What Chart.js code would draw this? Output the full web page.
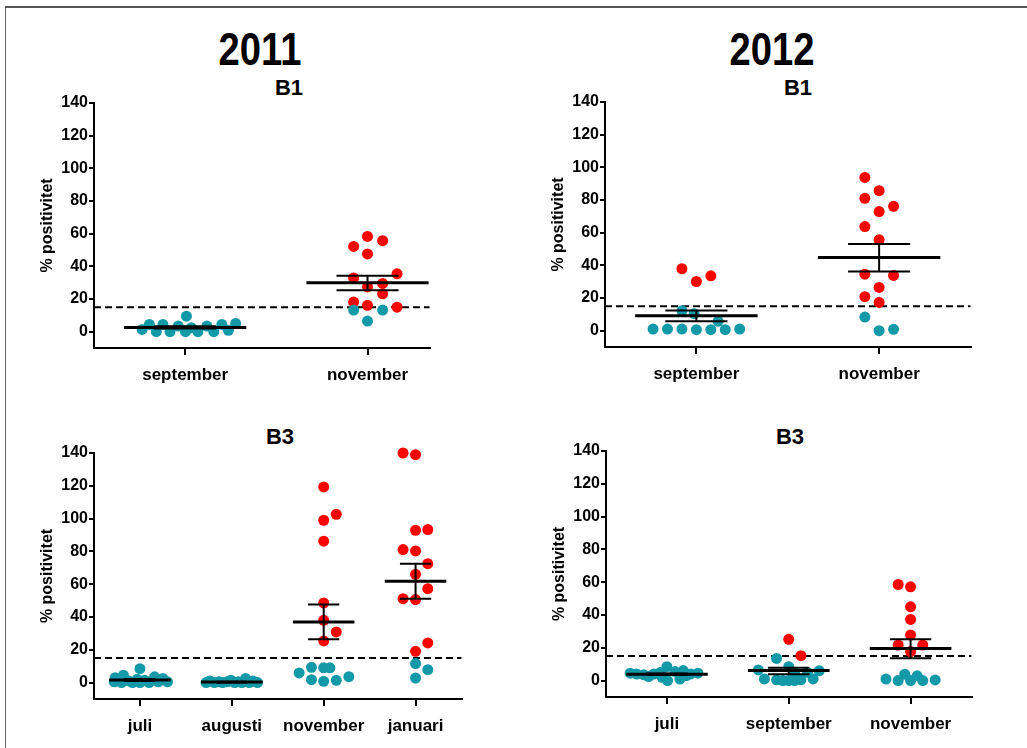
<!DOCTYPE html>
<html><head><meta charset="utf-8">
<script src="https://cdn.jsdelivr.net/npm/chart.js@4/dist/chart.umd.min.js"></script>
<style>
body{margin:0;background:#fff;width:1027px;height:748px;overflow:hidden;position:relative;font-family:'Liberation Sans',Arial,sans-serif;color:#000;}
.frame{position:absolute;left:5px;top:6px;width:1100px;height:800px;border-left:1px solid #666;border-top:2px solid #555;}
.yr{position:absolute;width:200px;text-align:center;font-weight:bold;font-size:46px;line-height:46px;transform:scaleX(0.83);}
.sub{position:absolute;width:100px;text-align:center;font-weight:bold;font-size:22px;line-height:22px;}
canvas{position:absolute;}
</style></head><body>
<div class="frame"></div>
<div class="yr" style="left:160px;top:26px;">2011</div>
<div class="yr" style="left:672px;top:26px;">2012</div>
<div class="sub" style="left:239px;top:77px;">B1</div>
<div class="sub" style="left:748px;top:77px;">B1</div>
<div class="sub" style="left:230px;top:426px;">B3</div>
<div class="sub" style="left:740px;top:426px;">B3</div>
<canvas id="p1" width="397" height="297" style="left:38px;top:91px;"></canvas>
<canvas id="p2" width="427" height="297" style="left:549px;top:90px;"></canvas>
<canvas id="p3" width="429" height="298" style="left:38px;top:441px;"></canvas>
<canvas id="p4" width="427" height="298" style="left:550px;top:439px;"></canvas>
<script>
// ---------- DATA ----------
const THRESHOLD = 15;
const yTickValues = [0, 20, 40, 60, 80, 100, 120, 140];
const yTitle = '% positivitet';

// 2011 B1  (each point: [horizontal jitter within category, % positivitet])
const cats2011B1 = ['september', 'november'];
const sep2011B1 = [[-0.236,1.4],[-0.196,4.4],[-0.158,0],[-0.122,4.4],[-0.083,0],[-0.038,3.4],[0.007,9.5],[0.002,0],[0.034,2.4],[0.07,0],[0.119,3.4],[0.157,0],[0.201,4.4],[0.237,0.8],[0.277,5]];
const nov2011B1 = [[-0.076,52.2],[0,58.3],[0.083,55.7],[0,47.6],[-0.076,32.9],[0.162,35.4],[0,27.4],[0.083,29.5],[0.083,23.2],[-0.076,18.1],[0,16.1],[0.162,15.0],[-0.076,13.2],[0.083,13.2],[0,6.5]];
const mean2011B1 = [2.6, 30.0];
const semHi2011B1 = [3.3, 34.3];
const semLo2011B1 = [1.9, 25.4];

// 2012 B1
const cats2012B1 = ['september', 'november'];
const sep2012B1 = [[-0.079,37.9],[0,30.1],[0.079,33.6],[-0.237,1],[-0.158,1],[-0.079,1],[-0.079,12.2],[0,0.6],[-0.012,10.4],[0.119,5.7],[0.079,0.6],[0.158,0.6],[0.237,1]];
const nov2012B1 = [[-0.078,93.8],[0,85.7],[-0.078,81],[0.079,76.1],[0,72.9],[-0.078,63.7],[0,55.6],[-0.078,34.6],[0.079,33.8],[0,26.5],[-0.078,20.8],[0,17.3],[-0.078,8.3],[0,0],[0.079,0.8]];
const mean2012B1 = [9.2, 44.8];
const semHi2012B1 = [12.4, 53.1];
const semLo2012B1 = [5.7, 36.2];

// 2011 B3
const cats2011B3 = ['juli', 'augusti', 'november', 'januari'];
const jul2011B3 = [[-0.28,0.5],[-0.27,3],[-0.2,0],[-0.18,4.5],[-0.12,1],[-0.08,0],[-0.03,2],[0,8.5],[0,0],[0.05,1.5],[0.1,0],[0.16,3.5],[0.2,0.5],[0.25,2.5],[0.3,0.5]];
const aug2011B3 = [[-0.28,0],[-0.24,1],[-0.19,0],[-0.14,0.5],[-0.1,0],[-0.05,0.5],[-0.01,1.5],[0.03,0],[0.07,0.5],[0.11,0],[0.15,2.5],[0.19,0],[0.23,1],[0.28,0]];
const nov2011B3 = [[0,119.3],[0,99],[0.137,102.6],[0,86.2],[0,48.6],[0,38],[0.137,30.9],[0,25.4],[-0.267,5.9],[-0.133,9.3],[0,9],[0.068,9],[-0.133,1.8],[0,0.8],[0.137,1.4],[0.274,3.6]];
const jan2011B3 = [[-0.136,140],[0,139],[0,92.9],[0.133,93.3],[-0.136,81.1],[0,80.3],[0.133,72.5],[0,66],[0.133,57.3],[-0.136,51.2],[0,50.6],[0.133,24.2],[0,19.1],[0,11.6],[0.133,7.9],[0,2.8]];
const mean2011B3 = [1.6, 0.3, 37.0, 61.8];
const semHi2011B3 = [2.2, 0.5, 47.6, 72.5];
const semLo2011B3 = [1.0, 0.1, 26.4, 51.2];

// 2012 B3
const cats2012B3 = ['juli', 'september', 'november'];
const jul2012B3 = [[-0.302,4.5],[-0.248,4],[-0.189,3.5],[-0.15,2.5],[-0.108,4],[-0.054,4.9],[-0.04,2],[0,8.5],[0.005,0],[0.067,5.5],[0.107,0.9],[0.134,6.1],[0.16,3],[0.196,4.1],[0.255,4.5]];
const sep2012B3 = [[-0.25,6.5],[-0.2,1],[-0.1,13.5],[-0.1,0.5],[-0.048,0],[0,8.5],[0,0],[0.048,0],[0.048,5],[0.1,0.5],[0.153,5],[0.2,1],[0.25,6],[0,25.2],[0.1,15.2]];
const nov2012B3 = [[-0.102,58.6],[0,57.2],[0,45],[0,37.3],[0,27.8],[-0.102,21.7],[0.1,21.7],[0,17.7],[-0.202,0.9],[-0.102,0],[-0.048,3.9],[0,0],[0.054,2.9],[0.1,0],[0.202,0.4]];
const mean2012B3 = [3.9, 6.1, 19.5];
const semHi2012B3 = [4.4, 7.9, 25.2];
const semLo2012B3 = [3.4, 3.9, 13.6];

// ---------- STYLE ----------
const TEAL = '#1399a8', RED = '#ff0000';
const MEAN_HALF = 0.335, SEM_HALF = 0.17;
const FONT = "'Liberation Sans', Arial, sans-serif";

function buildPanel(id, cats, groups, means, hi, lo, xMax) {
  const meanData = [], semData = [], dotData = [], dotColors = [];
  cats.forEach((c, i) => {
    const x = i + 1;
    meanData.push({x: x - MEAN_HALF, y: means[i]}, {x: x + MEAN_HALF, y: means[i]}, {x: x + MEAN_HALF, y: null});
    semData.push({x: x - SEM_HALF, y: hi[i]}, {x: x + SEM_HALF, y: hi[i]}, {x: x + SEM_HALF, y: null},
                 {x: x - SEM_HALF, y: lo[i]}, {x: x + SEM_HALF, y: lo[i]}, {x: x + SEM_HALF, y: null},
                 {x: x, y: lo[i]}, {x: x, y: hi[i]}, {x: x, y: null});
    groups[i].forEach(([j, v]) => {
      dotData.push({x: x + j, y: v});
      dotColors.push(v >= THRESHOLD ? RED : TEAL);
    });
  });
  const lineBase = {type: 'line', pointRadius: 0, borderColor: '#000', spanGaps: false, clip: false, tension: 0, fill: false};
  new Chart(document.getElementById(id), {
    type: 'line',
    data: {
      datasets: [
        Object.assign({}, lineBase, {data: meanData, borderWidth: 3}),
        Object.assign({}, lineBase, {data: semData, borderWidth: 2}),
        {type: 'line', data: dotData, showLine: false, pointRadius: 5.5, pointHoverRadius: 5.5,
         pointBackgroundColor: dotColors, pointBorderWidth: 0, clip: false},
        Object.assign({}, lineBase, {data: [{x: 0.5, y: THRESHOLD}, {x: xMax, y: THRESHOLD}], borderWidth: 2, borderDash: [7, 4]})
      ]
    },
    options: {
      responsive: false,
      animation: false,
      events: [],
      layout: {padding: {top: 12, left: 0, right: 0, bottom: 0}},
      plugins: {legend: {display: false}, tooltip: {enabled: false}},
      scales: {
        x: {
          type: 'linear', min: 0.5, max: xMax,
          afterBuildTicks: s => { s.ticks = cats.map((c, i) => ({value: i + 1})); },
          afterFit: s => { s.height = 40; s.paddingLeft = 0; s.paddingRight = 0; },
          ticks: {callback: v => cats[v - 1] || '', font: {family: FONT, size: 17, weight: 'bold'}, color: '#000', padding: 10, maxRotation: 0, minRotation: 0, autoSkip: false},
          grid: {drawOnChartArea: false, drawTicks: true, tickLength: 7, color: '#000', lineWidth: 2},
          border: {display: true, color: '#000', width: 2}
        },
        y: {
          type: 'linear', min: -10, max: 140,
          afterBuildTicks: s => { s.ticks = yTickValues.map(v => ({value: v})); },
          afterFit: s => { s.width = 56; s.paddingTop = 0; s.paddingBottom = 0; },
          ticks: {font: {family: FONT, size: 16, weight: 'bold'}, color: '#000', padding: 1},
          grid: {drawOnChartArea: false, drawTicks: true, tickLength: 5, color: '#000', lineWidth: 2},
          border: {display: true, color: '#000', width: 2},
          title: {display: true, text: yTitle, font: {family: FONT, size: 16, weight: 'bold'}, color: '#000', padding: 0}
        }
      }
    }
  });
}

buildPanel('p1', cats2011B1, [sep2011B1, nov2011B1], mean2011B1, semHi2011B1, semLo2011B1, 2.34);
buildPanel('p2', cats2012B1, [sep2012B1, nov2012B1], mean2012B1, semHi2012B1, semLo2012B1, 2.5);
buildPanel('p3', cats2011B3, [jul2011B3, aug2011B3, nov2011B3, jan2011B3], mean2011B3, semHi2011B3, semLo2011B3, 4.5);
buildPanel('p4', cats2012B3, [jul2012B3, sep2012B3, nov2012B3], mean2012B3, semHi2012B3, semLo2012B3, 3.5);
</script>
</body></html>
